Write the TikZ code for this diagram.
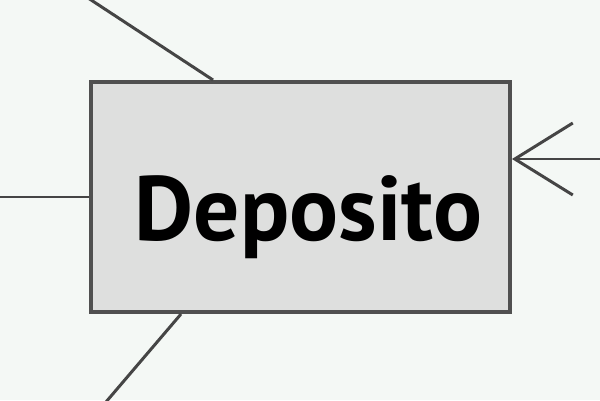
\documentclass[tikz,border=0pt]{standalone}
\usepackage{fontspec}
\newfontfamily\ptsans{PT Sans}
\usetikzlibrary{arrows.meta,calc}
\definecolor{fondo}{HTML}{F4F8F5}
\definecolor{relleno}{HTML}{DEDFDE}
\definecolor{borde}{HTML}{505050}
\definecolor{linea}{HTML}{454545}

\begin{document}
\begin{tikzpicture}[x=0.02cm,y=-0.02cm,
	entidad/.style={rectangle,draw=borde,fill=relleno,line width=2.3pt,minimum width=8.38cm,minimum height=4.6cm,inner sep=0pt},
	conector/.style={draw=linea,line width=1.7pt}]
	\fill[fondo] (0,0) rectangle (600,400);
	\useasboundingbox (0,0) rectangle (600,400);
	\path (300.5,197) node(deposito)[entidad]{}
	([shift={(8,43)}]deposito.center) node(texto)[anchor=base,inner sep=0pt,font=\ptsans\bfseries\fontsize{52}{60}\selectfont]{Deposito};
	\coordinate (a) at (85,-4);
	\coordinate (b) at (-5,197);
	\coordinate (c) at (100,409);
	\coordinate (d) at (605,159);
	\draw[conector] (a)--($(deposito.north west)+(124,0)$);
	\draw[conector] (b)--(deposito.west);
	\draw[conector] (c)--($(deposito.south west)+(92,0)$);
	\draw[conector,-{Straight Barb[length=1.16cm,width=1.44cm]}] (d)--(deposito.east |- d);
\end{tikzpicture}
\end{document}
